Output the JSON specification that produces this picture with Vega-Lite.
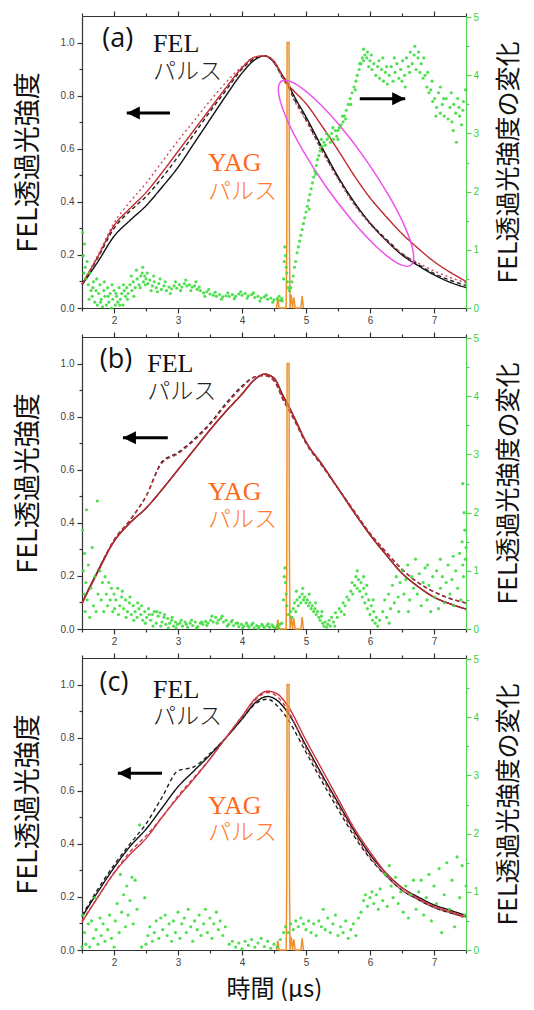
{
  "$schema": "https://vega.github.io/schema/vega-lite/v6.json",
  "padding": {"left": 14, "top": 10, "right": 0, "bottom": 0},
  "spacing": 29,
  "bounds": "flush",
  "config": {
    "view": {"stroke": null},
    "axis": {"grid": false, "labelFont": "Liberation Sans", "labelFontSize": 10, "labelColor": "#444", "domainColor": "#333", "tickColor": "#333", "domainWidth": 1.2, "tickWidth": 1.2, "titleFont": "Noto Sans CJK JP", "titleFontWeight": "normal", "titleFontSize": 27, "titleColor": "#111"}
  },
  "datasets": {
    "curves": [
      {"p":"a","x":1.5,"k":0.087,"kd":0.09,"r":0.09,"rd":0.09},
      {"p":"a","x":1.75,"k":0.175,"kd":0.19,"r":0.195,"rd":0.2},
      {"p":"a","x":2.0,"k":0.27,"kd":0.3,"r":0.31,"rd":0.32},
      {"p":"a","x":2.25,"k":0.33,"kd":0.365,"r":0.375,"rd":0.4},
      {"p":"a","x":2.5,"k":0.385,"kd":0.42,"r":0.435,"rd":0.47},
      {"p":"a","x":2.75,"k":0.455,"kd":0.49,"r":0.51,"rd":0.55},
      {"p":"a","x":3.0,"k":0.53,"kd":0.57,"r":0.59,"rd":0.63},
      {"p":"a","x":3.25,"k":0.62,"kd":0.655,"r":0.67,"rd":0.705},
      {"p":"a","x":3.5,"k":0.71,"kd":0.74,"r":0.75,"rd":0.78},
      {"p":"a","x":3.75,"k":0.8,"kd":0.82,"r":0.83,"rd":0.85},
      {"p":"a","x":4.0,"k":0.885,"kd":0.9,"r":0.905,"rd":0.91},
      {"p":"a","x":4.2,"k":0.935,"kd":0.94,"r":0.945,"rd":0.945},
      {"p":"a","x":4.35,"k":0.95,"kd":0.95,"r":0.95,"rd":0.95},
      {"p":"a","x":4.5,"k":0.925,"kd":0.925,"r":0.93,"rd":0.925},
      {"p":"a","x":4.65,"k":0.87,"kd":0.86,"r":0.865,"rd":0.86},
      {"p":"a","x":4.72,"k":0.845,"kd":0.835,"r":0.84,"rd":0.835},
      {"p":"a","x":4.8,"k":0.805,"kd":0.795,"r":0.82,"rd":0.79},
      {"p":"a","x":5.0,"k":0.72,"kd":0.71,"r":0.77,"rd":0.705},
      {"p":"a","x":5.25,"k":0.605,"kd":0.595,"r":0.685,"rd":0.59},
      {"p":"a","x":5.5,"k":0.495,"kd":0.49,"r":0.595,"rd":0.485},
      {"p":"a","x":5.75,"k":0.4,"kd":0.395,"r":0.5,"rd":0.39},
      {"p":"a","x":6.0,"k":0.32,"kd":0.32,"r":0.415,"rd":0.315},
      {"p":"a","x":6.25,"k":0.255,"kd":0.26,"r":0.345,"rd":0.255},
      {"p":"a","x":6.5,"k":0.2,"kd":0.205,"r":0.28,"rd":0.205},
      {"p":"a","x":6.75,"k":0.16,"kd":0.165,"r":0.225,"rd":0.17},
      {"p":"a","x":7.0,"k":0.125,"kd":0.13,"r":0.175,"rd":0.14},
      {"p":"a","x":7.25,"k":0.097,"kd":0.105,"r":0.135,"rd":0.115},
      {"p":"a","x":7.5,"k":0.077,"kd":0.085,"r":0.1,"rd":0.095},
      {"p":"b","x":1.5,"k":0.098,"kd":0.098,"r":0.095,"rd":0.098},
      {"p":"b","x":1.75,"k":0.22,"kd":0.22,"r":0.215,"rd":0.22},
      {"p":"b","x":2.0,"k":0.33,"kd":0.335,"r":0.33,"rd":0.335},
      {"p":"b","x":2.25,"k":0.4,"kd":0.41,"r":0.4,"rd":0.41},
      {"p":"b","x":2.5,"k":0.455,"kd":0.5,"r":0.455,"rd":0.5},
      {"p":"b","x":2.75,"k":0.525,"kd":0.63,"r":0.525,"rd":0.625},
      {"p":"b","x":3.0,"k":0.6,"kd":0.665,"r":0.6,"rd":0.66},
      {"p":"b","x":3.25,"k":0.675,"kd":0.715,"r":0.675,"rd":0.71},
      {"p":"b","x":3.5,"k":0.75,"kd":0.775,"r":0.75,"rd":0.77},
      {"p":"b","x":3.75,"k":0.82,"kd":0.85,"r":0.82,"rd":0.845},
      {"p":"b","x":4.0,"k":0.885,"kd":0.915,"r":0.885,"rd":0.91},
      {"p":"b","x":4.2,"k":0.94,"kd":0.95,"r":0.94,"rd":0.95},
      {"p":"b","x":4.35,"k":0.96,"kd":0.955,"r":0.96,"rd":0.955},
      {"p":"b","x":4.5,"k":0.945,"kd":0.935,"r":0.945,"rd":0.935},
      {"p":"b","x":4.65,"k":0.875,"kd":0.86,"r":0.87,"rd":0.86},
      {"p":"b","x":4.72,"k":0.845,"kd":0.83,"r":0.84,"rd":0.83},
      {"p":"b","x":4.8,"k":0.805,"kd":0.795,"r":0.805,"rd":0.795},
      {"p":"b","x":5.0,"k":0.705,"kd":0.7,"r":0.705,"rd":0.7},
      {"p":"b","x":5.25,"k":0.62,"kd":0.615,"r":0.62,"rd":0.615},
      {"p":"b","x":5.5,"k":0.53,"kd":0.53,"r":0.53,"rd":0.53},
      {"p":"b","x":5.75,"k":0.44,"kd":0.445,"r":0.44,"rd":0.445},
      {"p":"b","x":6.0,"k":0.355,"kd":0.36,"r":0.355,"rd":0.36},
      {"p":"b","x":6.25,"k":0.28,"kd":0.29,"r":0.28,"rd":0.29},
      {"p":"b","x":6.5,"k":0.21,"kd":0.225,"r":0.21,"rd":0.225},
      {"p":"b","x":6.75,"k":0.16,"kd":0.175,"r":0.16,"rd":0.175},
      {"p":"b","x":7.0,"k":0.12,"kd":0.14,"r":0.12,"rd":0.14},
      {"p":"b","x":7.25,"k":0.095,"kd":0.115,"r":0.095,"rd":0.115},
      {"p":"b","x":7.5,"k":0.075,"kd":0.098,"r":0.075,"rd":0.098},
      {"p":"c","x":1.5,"k":0.125,"kd":0.13,"r":0.105,"rd":0.11},
      {"p":"c","x":1.75,"k":0.22,"kd":0.23,"r":0.2,"rd":0.2},
      {"p":"c","x":2.0,"k":0.31,"kd":0.32,"r":0.29,"rd":0.29},
      {"p":"c","x":2.25,"k":0.39,"kd":0.4,"r":0.36,"rd":0.37},
      {"p":"c","x":2.5,"k":0.455,"kd":0.475,"r":0.42,"rd":0.43},
      {"p":"c","x":2.75,"k":0.535,"kd":0.575,"r":0.5,"rd":0.5},
      {"p":"c","x":3.0,"k":0.615,"kd":0.675,"r":0.575,"rd":0.58},
      {"p":"c","x":3.25,"k":0.675,"kd":0.69,"r":0.645,"rd":0.65},
      {"p":"c","x":3.5,"k":0.735,"kd":0.74,"r":0.72,"rd":0.72},
      {"p":"c","x":3.75,"k":0.8,"kd":0.8,"r":0.8,"rd":0.8},
      {"p":"c","x":4.0,"k":0.87,"kd":0.87,"r":0.88,"rd":0.88},
      {"p":"c","x":4.2,"k":0.93,"kd":0.925,"r":0.945,"rd":0.94},
      {"p":"c","x":4.4,"k":0.955,"kd":0.945,"r":0.975,"rd":0.97},
      {"p":"c","x":4.55,"k":0.94,"kd":0.92,"r":0.965,"rd":0.955},
      {"p":"c","x":4.7,"k":0.9,"kd":0.875,"r":0.925,"rd":0.91},
      {"p":"c","x":5.0,"k":0.77,"kd":0.745,"r":0.79,"rd":0.76},
      {"p":"c","x":5.25,"k":0.66,"kd":0.635,"r":0.68,"rd":0.65},
      {"p":"c","x":5.5,"k":0.555,"kd":0.53,"r":0.57,"rd":0.545},
      {"p":"c","x":5.75,"k":0.45,"kd":0.43,"r":0.46,"rd":0.44},
      {"p":"c","x":6.0,"k":0.36,"kd":0.345,"r":0.37,"rd":0.35},
      {"p":"c","x":6.25,"k":0.29,"kd":0.28,"r":0.29,"rd":0.28},
      {"p":"c","x":6.5,"k":0.235,"kd":0.225,"r":0.235,"rd":0.225},
      {"p":"c","x":6.75,"k":0.2,"kd":0.19,"r":0.195,"rd":0.19},
      {"p":"c","x":7.0,"k":0.17,"kd":0.16,"r":0.165,"rd":0.16},
      {"p":"c","x":7.25,"k":0.15,"kd":0.14,"r":0.145,"rd":0.14},
      {"p":"c","x":7.5,"k":0.13,"kd":0.125,"r":0.125,"rd":0.12}
    ],
    "yag": [
      {"x":4.54,"y":0},{"x":4.56,"y":0.035},{"x":4.58,"y":0},{"x":4.69,"y":0},{"x":4.7,"y":0.25},{"x":4.705,"y":1.0},{"x":4.735,"y":1.0},{"x":4.74,"y":0.3},{"x":4.75,"y":0},{"x":4.77,"y":0.05},{"x":4.79,"y":0},{"x":4.81,"y":0.04},{"x":4.83,"y":0},{"x":4.92,"y":0},{"x":4.94,"y":0.045},{"x":4.96,"y":0}
    ],
    "ellipse": [
      {"i":0,"x":6.636,"y":0.161},{"i":1,"x":6.442,"y":0.167},{"i":2,"x":6.122,"y":0.226},{"i":3,"x":5.73,"y":0.327},
      {"i":4,"x":5.319,"y":0.455},{"i":5,"x":4.955,"y":0.592},{"i":6,"x":4.694,"y":0.715},{"i":7,"x":4.573,"y":0.808},
      {"i":8,"x":4.614,"y":0.854},{"i":9,"x":4.808,"y":0.848},{"i":10,"x":5.128,"y":0.789},{"i":11,"x":5.52,"y":0.689},
      {"i":12,"x":5.931,"y":0.56},{"i":13,"x":6.295,"y":0.423},{"i":14,"x":6.556,"y":0.3},{"i":15,"x":6.677,"y":0.208}
    ],
    "notes": [
      {"p":"a","k":"lab","t":"(a)","x":2.06,"y":1.015},
      {"p":"a","k":"fel","t":"FEL","x":2.61,"y":0.966},
      {"p":"a","k":"felj","t":"パルス","x":2.61,"y":0.864},
      {"p":"a","k":"yag","t":"YAG","x":3.47,"y":0.517},
      {"p":"a","k":"yagj","t":"パルス","x":3.47,"y":0.41},
      {"p":"b","k":"lab","t":"(b)","x":2.03,"y":1.012},
      {"p":"b","k":"fel","t":"FEL","x":2.52,"y":0.967},
      {"p":"b","k":"felj","t":"パルス","x":2.52,"y":0.865},
      {"p":"b","k":"yag","t":"YAG","x":3.47,"y":0.486},
      {"p":"b","k":"yagj","t":"パルス","x":3.47,"y":0.383},
      {"p":"c","k":"lab","t":"(c)","x":2.0,"y":1.006},
      {"p":"c","k":"fel","t":"FEL","x":2.61,"y":0.95},
      {"p":"c","k":"felj","t":"パルス","x":2.61,"y":0.852},
      {"p":"c","k":"yag","t":"YAG","x":3.47,"y":0.513},
      {"p":"c","k":"yagj","t":"パルス","x":3.47,"y":0.415}
    ],
    "arrows": [
      {"p":"a","d":"L","x1":2.875,"x2":2.2,"y":0.735},
      {"p":"a","d":"R","x1":5.84,"x2":6.55,"y":0.788},
      {"p":"b","d":"L","x1":2.84,"x2":2.14,"y":0.72},
      {"p":"c","d":"L","x1":2.75,"x2":2.06,"y":0.666}
    ],
    "green": [
      {"p":"a","x":1.51,"g":1.3},{"p":"a","x":1.52,"g":0.9},{"p":"a","x":1.53,"g":0.6},{"p":"a","x":1.54,"g":1.1},{"p":"a","x":1.55,"g":0.7},{"p":"a","x":1.56,"g":0.5},{"p":"a","x":1.58,"g":0.8},{"p":"a","x":1.6,"g":0.4},{"p":"a","x":1.62,"g":0.6},{"p":"a","x":1.64,"g":0.3},
      {"p":"a","x":1.66,"g":0.2},{"p":"a","x":1.68,"g":0.45},{"p":"a","x":1.7,"g":0.1},{"p":"a","x":1.72,"g":0.3},{"p":"a","x":1.74,"g":0.05},{"p":"a","x":1.76,"g":0.25},{"p":"a","x":1.78,"g":0.4},{"p":"a","x":1.8,"g":0.15},{"p":"a","x":1.82,"g":0.02},{"p":"a","x":1.84,"g":0.3},{"p":"a","x":1.86,"g":0.2},{"p":"a","x":1.88,"g":0.05},{"p":"a","x":1.9,"g":0.35},{"p":"a","x":1.92,"g":0.1},{"p":"a","x":1.94,"g":0.25},{"p":"a","x":1.96,"g":0.0},{"p":"a","x":1.98,"g":0.15},{"p":"a","x":2.0,"g":0.3},{"p":"a","x":2.02,"g":0.05},{"p":"a","x":2.04,"g":0.2},{"p":"a","x":2.06,"g":0.1},{"p":"a","x":2.08,"g":0.35},{"p":"a","x":2.1,"g":0.15},{"p":"a","x":2.12,"g":0.25},{"p":"a","x":2.14,"g":0.05},{"p":"a","x":2.16,"g":0.3},{"p":"a","x":2.18,"g":0.2},{"p":"a","x":2.2,"g":0.35},
      {"p":"a","x":2.22,"g":0.25},{"p":"a","x":2.25,"g":0.4},{"p":"a","x":2.28,"g":0.3},{"p":"a","x":2.3,"g":0.45},{"p":"a","x":2.33,"g":0.35},{"p":"a","x":2.36,"g":0.5},{"p":"a","x":2.39,"g":0.4},{"p":"a","x":2.42,"g":0.55},{"p":"a","x":2.44,"g":0.6},{"p":"a","x":2.46,"g":0.45},{"p":"a","x":2.48,"g":0.55},
      {"p":"a","x":2.5,"g":0.5},{"p":"a","x":2.53,"g":0.42},{"p":"a","x":2.56,"g":0.48},{"p":"a","x":2.6,"g":0.38},{"p":"a","x":2.63,"g":0.45},{"p":"a","x":2.66,"g":0.35},{"p":"a","x":2.7,"g":0.42},{"p":"a","x":2.74,"g":0.32},{"p":"a","x":2.78,"g":0.38},{"p":"a","x":2.82,"g":0.3},{"p":"a","x":2.86,"g":0.36},{"p":"a","x":2.9,"g":0.33},{"p":"a","x":2.94,"g":0.38},{"p":"a","x":2.98,"g":0.34},{"p":"a","x":3.02,"g":0.4},{"p":"a","x":3.06,"g":0.36},{"p":"a","x":3.1,"g":0.42},{"p":"a","x":3.14,"g":0.38},{"p":"a","x":3.18,"g":0.4},{"p":"a","x":3.22,"g":0.36},{"p":"a","x":3.26,"g":0.38},{"p":"a","x":3.3,"g":0.32},
      {"p":"a","x":3.35,"g":0.3},{"p":"a","x":3.4,"g":0.26},{"p":"a","x":3.45,"g":0.28},{"p":"a","x":3.5,"g":0.24},{"p":"a","x":3.55,"g":0.22},{"p":"a","x":3.6,"g":0.2},{"p":"a","x":3.65,"g":0.23},{"p":"a","x":3.7,"g":0.19},{"p":"a","x":3.75,"g":0.21},{"p":"a","x":3.8,"g":0.2},{"p":"a","x":3.85,"g":0.23},{"p":"a","x":3.9,"g":0.2},{"p":"a","x":3.95,"g":0.24},{"p":"a","x":4.0,"g":0.22},{"p":"a","x":4.05,"g":0.25},{"p":"a","x":4.1,"g":0.21},{"p":"a","x":4.15,"g":0.23},{"p":"a","x":4.2,"g":0.18},{"p":"a","x":4.25,"g":0.2},{"p":"a","x":4.3,"g":0.17},{"p":"a","x":4.35,"g":0.19},{"p":"a","x":4.4,"g":0.15},{"p":"a","x":4.45,"g":0.17},{"p":"a","x":4.5,"g":0.14},{"p":"a","x":4.55,"g":0.16},{"p":"a","x":4.6,"g":0.13},{"p":"a","x":4.63,"g":0.12},
      {"p":"a","x":1.61,"g":0.15},{"p":"a","x":1.67,"g":0.35},{"p":"a","x":1.73,"g":0.5},{"p":"a","x":1.79,"g":0.1},{"p":"a","x":1.85,"g":0.45},{"p":"a","x":1.91,"g":0.2},{"p":"a","x":1.97,"g":0.4},{"p":"a","x":2.03,"g":0.25},{"p":"a","x":2.09,"g":0.05},{"p":"a","x":2.15,"g":0.4},{"p":"a","x":2.21,"g":0.15},{"p":"a","x":2.27,"g":0.55},{"p":"a","x":2.31,"g":0.2},{"p":"a","x":2.35,"g":0.65},{"p":"a","x":2.41,"g":0.35},{"p":"a","x":2.45,"g":0.7},{"p":"a","x":2.49,"g":0.4},{"p":"a","x":2.52,"g":0.6},{"p":"a","x":2.58,"g":0.3},{"p":"a","x":2.62,"g":0.55},{"p":"a","x":2.68,"g":0.28},{"p":"a","x":2.72,"g":0.5},{"p":"a","x":2.8,"g":0.45},{"p":"a","x":2.88,"g":0.25},{"p":"a","x":2.96,"g":0.45},{"p":"a","x":3.04,"g":0.3},{"p":"a","x":3.12,"g":0.48},{"p":"a","x":3.2,"g":0.3},{"p":"a","x":3.28,"g":0.45},{"p":"a","x":3.33,"g":0.36},{"p":"a","x":3.42,"g":0.2},{"p":"a","x":3.48,"g":0.32},{"p":"a","x":3.58,"g":0.27},{"p":"a","x":3.68,"g":0.15},{"p":"a","x":3.78,"g":0.26},{"p":"a","x":3.88,"g":0.16},{"p":"a","x":3.98,"g":0.28},{"p":"a","x":4.08,"g":0.17},{"p":"a","x":4.18,"g":0.26},{"p":"a","x":4.28,"g":0.12},{"p":"a","x":4.38,"g":0.22},{"p":"a","x":4.48,"g":0.1},{"p":"a","x":4.58,"g":0.2},{"p":"a","x":4.62,"g":0.16},
      {"p":"a","x":4.65,"g":0.5},{"p":"a","x":4.66,"g":0.8},{"p":"a","x":4.67,"g":1.05},{"p":"a","x":4.68,"g":0.9},{"p":"a","x":4.69,"g":0.7},{"p":"a","x":4.7,"g":0.6},{"p":"a","x":4.71,"g":0.45},{"p":"a","x":4.72,"g":0.35},{"p":"a","x":4.74,"g":0.3},
      {"p":"a","x":4.76,"g":0.35},{"p":"a","x":4.78,"g":0.45},{"p":"a","x":4.8,"g":0.55},{"p":"a","x":4.82,"g":0.7},{"p":"a","x":4.84,"g":0.8},{"p":"a","x":4.86,"g":0.95},{"p":"a","x":4.88,"g":1.05},{"p":"a","x":4.9,"g":1.15},{"p":"a","x":4.92,"g":1.25},{"p":"a","x":4.94,"g":1.35},{"p":"a","x":4.96,"g":1.45},{"p":"a","x":4.98,"g":1.55},{"p":"a","x":5.0,"g":1.65},{"p":"a","x":5.02,"g":1.75},{"p":"a","x":5.04,"g":1.85},{"p":"a","x":5.06,"g":1.95},{"p":"a","x":5.08,"g":2.05},{"p":"a","x":5.1,"g":2.15},{"p":"a","x":5.12,"g":2.25},{"p":"a","x":5.14,"g":2.35},{"p":"a","x":5.16,"g":2.45},{"p":"a","x":5.18,"g":2.55},{"p":"a","x":5.2,"g":2.62},{"p":"a","x":5.22,"g":2.7},{"p":"a","x":5.25,"g":2.78},{"p":"a","x":5.28,"g":2.85},{"p":"a","x":5.3,"g":2.8},{"p":"a","x":5.33,"g":2.9},{"p":"a","x":5.36,"g":2.95},{"p":"a","x":5.38,"g":2.85},{"p":"a","x":5.4,"g":3.0},{"p":"a","x":5.43,"g":2.9},{"p":"a","x":5.46,"g":3.05},{"p":"a","x":5.48,"g":2.95},{"p":"a","x":5.5,"g":3.05},{"p":"a","x":5.52,"g":3.1},{"p":"a","x":5.55,"g":3.15},{"p":"a","x":5.58,"g":3.2},{"p":"a","x":5.6,"g":3.3},{"p":"a","x":5.63,"g":3.4},{"p":"a","x":5.66,"g":3.5},{"p":"a","x":5.69,"g":3.6},{"p":"a","x":5.72,"g":3.7},{"p":"a","x":5.75,"g":3.8},{"p":"a","x":5.78,"g":3.9},{"p":"a","x":5.8,"g":4.0},{"p":"a","x":5.83,"g":4.1},{"p":"a","x":5.86,"g":4.2},{"p":"a","x":5.88,"g":4.3},{"p":"a","x":5.9,"g":4.25},{"p":"a","x":5.92,"g":4.35},{"p":"a","x":5.95,"g":4.3},{"p":"a","x":5.98,"g":4.15},
      {"p":"a","x":5.05,"g":1.7},{"p":"a","x":5.15,"g":2.3},{"p":"a","x":5.24,"g":2.9},{"p":"a","x":5.32,"g":3.0},{"p":"a","x":5.42,"g":3.1},{"p":"a","x":5.5,"g":2.9},{"p":"a","x":5.57,"g":3.3},{"p":"a","x":5.62,"g":3.25},{"p":"a","x":5.7,"g":3.5},{"p":"a","x":5.77,"g":3.75},{"p":"a","x":5.84,"g":4.2},{"p":"a","x":5.9,"g":4.45},{"p":"a","x":5.96,"g":4.4},{"p":"a","x":6.02,"g":4.35},{"p":"a","x":6.14,"g":4.25},{"p":"a","x":6.26,"g":4.15},{"p":"a","x":6.38,"g":4.3},{"p":"a","x":6.5,"g":3.9},{"p":"a","x":6.62,"g":4.05},{"p":"a","x":6.7,"g":4.5},{"p":"a","x":6.76,"g":4.4},{"p":"a","x":6.84,"g":4.3},{"p":"a","x":6.9,"g":4.05},{"p":"a","x":6.97,"g":3.9},{"p":"a","x":7.03,"g":3.3},{"p":"a","x":7.15,"g":3.6},{"p":"a","x":7.27,"g":3.7},{"p":"a","x":7.39,"g":3.45},{"p":"a","x":7.45,"g":3.4},
      {"p":"a","x":6.0,"g":4.25},{"p":"a","x":6.03,"g":4.1},{"p":"a","x":6.06,"g":4.2},{"p":"a","x":6.09,"g":4.0},{"p":"a","x":6.12,"g":4.15},{"p":"a","x":6.15,"g":3.95},{"p":"a","x":6.18,"g":4.1},{"p":"a","x":6.21,"g":3.9},{"p":"a","x":6.24,"g":4.05},{"p":"a","x":6.27,"g":3.85},{"p":"a","x":6.3,"g":4.0},{"p":"a","x":6.33,"g":4.15},{"p":"a","x":6.36,"g":3.9},{"p":"a","x":6.39,"g":4.05},{"p":"a","x":6.42,"g":4.2},{"p":"a","x":6.45,"g":3.95},{"p":"a","x":6.48,"g":4.1},{"p":"a","x":6.51,"g":4.25},{"p":"a","x":6.54,"g":4.0},{"p":"a","x":6.57,"g":4.3},{"p":"a","x":6.6,"g":4.15},{"p":"a","x":6.63,"g":4.4},{"p":"a","x":6.66,"g":4.2},{"p":"a","x":6.69,"g":4.35},{"p":"a","x":6.72,"g":4.1},{"p":"a","x":6.75,"g":4.3},{"p":"a","x":6.78,"g":4.05},{"p":"a","x":6.8,"g":4.2},{"p":"a","x":6.83,"g":3.95},{"p":"a","x":6.86,"g":4.0},{"p":"a","x":6.89,"g":3.8},{"p":"a","x":6.92,"g":3.7},{"p":"a","x":6.95,"g":3.75},{"p":"a","x":6.98,"g":3.55},
      {"p":"a","x":7.01,"g":3.6},{"p":"a","x":7.04,"g":3.45},{"p":"a","x":7.07,"g":3.7},{"p":"a","x":7.1,"g":3.35},{"p":"a","x":7.13,"g":3.5},{"p":"a","x":7.16,"g":3.3},{"p":"a","x":7.19,"g":3.6},{"p":"a","x":7.22,"g":3.25},{"p":"a","x":7.25,"g":3.45},{"p":"a","x":7.28,"g":3.2},{"p":"a","x":7.31,"g":3.5},{"p":"a","x":7.34,"g":3.35},{"p":"a","x":7.37,"g":3.6},{"p":"a","x":7.4,"g":3.3},{"p":"a","x":7.43,"g":3.15},{"p":"a","x":7.46,"g":3.55},{"p":"a","x":7.49,"g":3.75},{"p":"a","x":7.1,"g":3.8},{"p":"a","x":7.3,"g":3.05},{"p":"a","x":7.35,"g":2.85},{"p":"a","x":6.55,"g":3.8},{"p":"a","x":6.2,"g":4.3},
      {"p":"b","x":1.51,"g":1.7},{"p":"b","x":1.52,"g":1.0},{"p":"b","x":1.53,"g":0.6},{"p":"b","x":1.54,"g":1.3},{"p":"b","x":1.55,"g":0.3},{"p":"b","x":1.56,"g":0.8},{"p":"b","x":1.57,"g":2.05},{"p":"b","x":1.58,"g":0.5},{"p":"b","x":1.6,"g":1.1},{"p":"b","x":1.62,"g":0.2},{"p":"b","x":1.64,"g":0.7},{"p":"b","x":1.66,"g":1.4},{"p":"b","x":1.68,"g":0.4},{"p":"b","x":1.7,"g":0.9},{"p":"b","x":1.72,"g":0.3},{"p":"b","x":1.74,"g":2.2},{"p":"b","x":1.75,"g":0.6},
      {"p":"b","x":1.78,"g":1.0},{"p":"b","x":1.8,"g":0.5},{"p":"b","x":1.82,"g":0.8},{"p":"b","x":1.84,"g":0.3},{"p":"b","x":1.86,"g":0.9},{"p":"b","x":1.88,"g":0.6},{"p":"b","x":1.9,"g":0.4},{"p":"b","x":1.92,"g":0.8},{"p":"b","x":1.94,"g":0.5},{"p":"b","x":1.96,"g":0.7},{"p":"b","x":1.98,"g":0.3},{"p":"b","x":2.0,"g":0.6},
      {"p":"b","x":2.03,"g":0.5},{"p":"b","x":2.06,"g":0.7},{"p":"b","x":2.09,"g":0.4},{"p":"b","x":2.12,"g":0.55},{"p":"b","x":2.15,"g":0.35},{"p":"b","x":2.18,"g":0.5},{"p":"b","x":2.21,"g":0.3},{"p":"b","x":2.24,"g":0.45},{"p":"b","x":2.27,"g":0.25},{"p":"b","x":2.3,"g":0.4},{"p":"b","x":2.33,"g":0.3},{"p":"b","x":2.36,"g":0.2},{"p":"b","x":2.39,"g":0.35},{"p":"b","x":2.42,"g":0.25},{"p":"b","x":2.45,"g":0.15},{"p":"b","x":2.48,"g":0.3},{"p":"b","x":2.51,"g":0.2},{"p":"b","x":2.54,"g":0.35},{"p":"b","x":2.57,"g":0.15},{"p":"b","x":2.6,"g":0.25},{"p":"b","x":2.63,"g":0.3},{"p":"b","x":2.66,"g":0.1},{"p":"b","x":2.69,"g":0.22},{"p":"b","x":2.72,"g":0.28},{"p":"b","x":2.75,"g":0.12},{"p":"b","x":2.78,"g":0.2},{"p":"b","x":2.81,"g":0.08},{"p":"b","x":2.84,"g":0.18},{"p":"b","x":2.87,"g":0.1},{"p":"b","x":2.9,"g":0.15},{"p":"b","x":2.93,"g":0.05},{"p":"b","x":2.96,"g":0.12},{"p":"b","x":2.99,"g":0.08},
      {"p":"b","x":2.01,"g":0.35},{"p":"b","x":2.07,"g":0.25},{"p":"b","x":2.13,"g":0.65},{"p":"b","x":2.19,"g":0.2},{"p":"b","x":2.25,"g":0.55},{"p":"b","x":2.31,"g":0.15},{"p":"b","x":2.37,"g":0.45},{"p":"b","x":2.43,"g":0.4},{"p":"b","x":2.49,"g":0.1},{"p":"b","x":2.55,"g":0.25},{"p":"b","x":2.61,"g":0.05},{"p":"b","x":2.67,"g":0.3},{"p":"b","x":2.73,"g":0.05},{"p":"b","x":2.79,"g":0.25},{"p":"b","x":2.85,"g":0.02},{"p":"b","x":2.91,"g":0.2},{"p":"b","x":2.97,"g":0.02},{"p":"b","x":3.05,"g":0.15},{"p":"b","x":3.13,"g":0.08},{"p":"b","x":3.21,"g":0.15},{"p":"b","x":3.29,"g":0.02},{"p":"b","x":3.37,"g":0.12},{"p":"b","x":3.45,"g":0.06},{"p":"b","x":3.53,"g":0.22},{"p":"b","x":3.61,"g":0.1},{"p":"b","x":3.69,"g":0.22},{"p":"b","x":3.77,"g":0.05},{"p":"b","x":3.85,"g":0.15},{"p":"b","x":3.93,"g":0.1},{"p":"b","x":4.01,"g":0.02},{"p":"b","x":4.09,"g":0.06},{"p":"b","x":4.17,"g":0.1},{"p":"b","x":4.25,"g":0.01},{"p":"b","x":4.33,"g":0.05},{"p":"b","x":4.41,"g":0.09},{"p":"b","x":4.49,"g":0.04},{"p":"b","x":4.57,"g":0.01},
      {"p":"b","x":3.03,"g":0.1},{"p":"b","x":3.07,"g":0.05},{"p":"b","x":3.11,"g":0.12},{"p":"b","x":3.15,"g":0.03},{"p":"b","x":3.19,"g":0.1},{"p":"b","x":3.23,"g":0.06},{"p":"b","x":3.27,"g":0.12},{"p":"b","x":3.31,"g":0.04},{"p":"b","x":3.35,"g":0.1},{"p":"b","x":3.39,"g":0.08},{"p":"b","x":3.43,"g":0.13},{"p":"b","x":3.47,"g":0.1},{"p":"b","x":3.51,"g":0.15},{"p":"b","x":3.55,"g":0.12},{"p":"b","x":3.59,"g":0.2},{"p":"b","x":3.63,"g":0.15},{"p":"b","x":3.67,"g":0.18},{"p":"b","x":3.71,"g":0.12},{"p":"b","x":3.75,"g":0.15},{"p":"b","x":3.79,"g":0.08},{"p":"b","x":3.83,"g":0.12},{"p":"b","x":3.87,"g":0.06},{"p":"b","x":3.91,"g":0.1},{"p":"b","x":3.95,"g":0.04},{"p":"b","x":3.99,"g":0.08},{"p":"b","x":4.03,"g":0.05},{"p":"b","x":4.07,"g":0.1},{"p":"b","x":4.11,"g":0.03},{"p":"b","x":4.15,"g":0.07},{"p":"b","x":4.19,"g":0.02},{"p":"b","x":4.23,"g":0.06},{"p":"b","x":4.27,"g":0.04},{"p":"b","x":4.31,"g":0.08},{"p":"b","x":4.35,"g":0.02},{"p":"b","x":4.39,"g":0.06},{"p":"b","x":4.43,"g":0.03},{"p":"b","x":4.47,"g":0.07},{"p":"b","x":4.51,"g":0.02},{"p":"b","x":4.55,"g":0.05},{"p":"b","x":4.59,"g":0.08},{"p":"b","x":4.62,"g":0.1},
      {"p":"b","x":4.65,"g":0.5},{"p":"b","x":4.66,"g":0.9},{"p":"b","x":4.67,"g":1.05},{"p":"b","x":4.68,"g":0.8},{"p":"b","x":4.69,"g":0.6},{"p":"b","x":4.7,"g":0.4},{"p":"b","x":4.72,"g":0.25},
      {"p":"b","x":4.76,"g":0.3},{"p":"b","x":4.78,"g":0.2},{"p":"b","x":4.8,"g":0.35},{"p":"b","x":4.82,"g":0.45},{"p":"b","x":4.84,"g":0.3},{"p":"b","x":4.86,"g":0.5},{"p":"b","x":4.88,"g":0.4},{"p":"b","x":4.9,"g":0.55},{"p":"b","x":4.92,"g":0.45},{"p":"b","x":4.94,"g":0.6},{"p":"b","x":4.96,"g":0.5},{"p":"b","x":4.98,"g":0.55},{"p":"b","x":5.0,"g":0.45},{"p":"b","x":5.02,"g":0.5},{"p":"b","x":5.04,"g":0.4},{"p":"b","x":5.06,"g":0.45},{"p":"b","x":5.08,"g":0.35},{"p":"b","x":5.1,"g":0.4},{"p":"b","x":5.12,"g":0.3},{"p":"b","x":5.14,"g":0.35},{"p":"b","x":5.16,"g":0.25},{"p":"b","x":5.18,"g":0.3},{"p":"b","x":5.2,"g":0.2},{"p":"b","x":5.22,"g":0.15},{"p":"b","x":5.24,"g":0.22},{"p":"b","x":5.26,"g":0.1},{"p":"b","x":5.28,"g":0.05},{"p":"b","x":5.3,"g":0.12},{"p":"b","x":5.32,"g":0.03},{"p":"b","x":5.34,"g":0.08},{"p":"b","x":5.36,"g":0.15},{"p":"b","x":5.38,"g":0.05},
      {"p":"b","x":4.85,"g":0.65},{"p":"b","x":4.95,"g":0.7},{"p":"b","x":5.05,"g":0.6},{"p":"b","x":5.15,"g":0.45},{"p":"b","x":5.25,"g":0.3},{"p":"b","x":5.45,"g":0.05},{"p":"b","x":5.6,"g":0.25},{"p":"b","x":5.72,"g":0.8},{"p":"b","x":5.8,"g":1.0},{"p":"b","x":5.9,"g":0.9},{"p":"b","x":5.95,"g":0.75},{"p":"b","x":6.05,"g":0.5},{"p":"b","x":6.3,"g":0.1},{"p":"b","x":6.45,"g":0.3},{"p":"b","x":6.6,"g":0.3},{"p":"b","x":6.9,"g":1.1},{"p":"b","x":7.1,"g":1.2},{"p":"b","x":7.3,"g":1.25},{"p":"b","x":7.45,"g":1.1},{"p":"b","x":7.47,"g":2.0},
      {"p":"b","x":5.4,"g":0.2},{"p":"b","x":5.43,"g":0.12},{"p":"b","x":5.46,"g":0.28},{"p":"b","x":5.49,"g":0.2},{"p":"b","x":5.52,"g":0.35},{"p":"b","x":5.55,"g":0.3},{"p":"b","x":5.58,"g":0.45},{"p":"b","x":5.61,"g":0.4},{"p":"b","x":5.64,"g":0.55},{"p":"b","x":5.67,"g":0.5},{"p":"b","x":5.7,"g":0.65},{"p":"b","x":5.73,"g":0.6},{"p":"b","x":5.76,"g":0.75},{"p":"b","x":5.78,"g":0.9},{"p":"b","x":5.8,"g":0.7},{"p":"b","x":5.82,"g":0.85},{"p":"b","x":5.84,"g":0.65},{"p":"b","x":5.86,"g":0.8},{"p":"b","x":5.88,"g":0.55},{"p":"b","x":5.9,"g":0.7},{"p":"b","x":5.92,"g":0.45},{"p":"b","x":5.94,"g":0.6},{"p":"b","x":5.96,"g":0.35},{"p":"b","x":5.98,"g":0.5},{"p":"b","x":6.0,"g":0.25},{"p":"b","x":6.02,"g":0.4},{"p":"b","x":6.04,"g":0.15},{"p":"b","x":6.06,"g":0.3},{"p":"b","x":6.08,"g":0.1},{"p":"b","x":6.1,"g":0.2},{"p":"b","x":6.12,"g":0.05},{"p":"b","x":6.15,"g":0.15},
      {"p":"b","x":6.2,"g":0.3},{"p":"b","x":6.23,"g":0.5},{"p":"b","x":6.26,"g":0.2},{"p":"b","x":6.29,"g":0.6},{"p":"b","x":6.32,"g":0.35},{"p":"b","x":6.35,"g":0.75},{"p":"b","x":6.38,"g":0.45},{"p":"b","x":6.41,"g":0.9},{"p":"b","x":6.44,"g":0.55},{"p":"b","x":6.47,"g":0.8},{"p":"b","x":6.5,"g":1.0},{"p":"b","x":6.53,"g":0.6},{"p":"b","x":6.56,"g":0.85},{"p":"b","x":6.59,"g":1.1},{"p":"b","x":6.62,"g":0.5},{"p":"b","x":6.65,"g":0.9},{"p":"b","x":6.68,"g":0.7},{"p":"b","x":6.71,"g":1.2},{"p":"b","x":6.74,"g":0.6},{"p":"b","x":6.77,"g":0.95},{"p":"b","x":6.8,"g":0.4},{"p":"b","x":6.83,"g":0.8},{"p":"b","x":6.86,"g":1.05},{"p":"b","x":6.89,"g":0.5},{"p":"b","x":6.92,"g":0.75},{"p":"b","x":6.95,"g":0.3},{"p":"b","x":6.98,"g":0.9},{"p":"b","x":7.01,"g":0.55},{"p":"b","x":7.04,"g":1.0},{"p":"b","x":7.07,"g":0.35},{"p":"b","x":7.1,"g":0.7},{"p":"b","x":7.13,"g":0.9},{"p":"b","x":7.16,"g":0.45},{"p":"b","x":7.19,"g":0.8},{"p":"b","x":7.22,"g":1.1},{"p":"b","x":7.25,"g":0.6},{"p":"b","x":7.28,"g":0.85},{"p":"b","x":7.31,"g":0.4},{"p":"b","x":7.34,"g":1.0},{"p":"b","x":7.37,"g":0.7},{"p":"b","x":7.4,"g":1.3},{"p":"b","x":7.42,"g":0.5},{"p":"b","x":7.44,"g":1.5},{"p":"b","x":7.46,"g":0.9},{"p":"b","x":7.48,"g":1.7},{"p":"b","x":7.49,"g":1.2},{"p":"b","x":7.45,"g":2.5},{"p":"b","x":7.5,"g":1.4},
      {"p":"c","x":1.5,"g":0.05},{"p":"c","x":1.52,"g":0.6},{"p":"c","x":1.54,"g":0.3},{"p":"c","x":1.56,"g":0.1},{"p":"c","x":1.6,"g":0.45},{"p":"c","x":1.62,"g":0.05},{"p":"c","x":1.65,"g":0.5},{"p":"c","x":1.68,"g":0.2},{"p":"c","x":1.7,"g":0.9},{"p":"c","x":1.72,"g":0.35},{"p":"c","x":1.75,"g":0.1},{"p":"c","x":1.78,"g":0.55},{"p":"c","x":1.8,"g":0.25},{"p":"c","x":1.83,"g":0.45},{"p":"c","x":1.86,"g":0.15},{"p":"c","x":1.9,"g":0.35},{"p":"c","x":1.93,"g":0.6},{"p":"c","x":1.96,"g":0.2},{"p":"c","x":2.0,"g":0.05},{"p":"c","x":2.02,"g":0.5},{"p":"c","x":2.05,"g":0.8},{"p":"c","x":2.08,"g":0.3},{"p":"c","x":2.1,"g":1.3},{"p":"c","x":2.12,"g":0.65},{"p":"c","x":2.15,"g":0.95},{"p":"c","x":2.18,"g":0.4},{"p":"c","x":2.2,"g":1.1},{"p":"c","x":2.22,"g":0.6},{"p":"c","x":2.25,"g":0.85},{"p":"c","x":2.28,"g":1.25},{"p":"c","x":2.3,"g":0.45},{"p":"c","x":2.33,"g":1.2},{"p":"c","x":2.36,"g":0.7},{"p":"c","x":2.4,"g":2.15},{"p":"c","x":2.43,"g":0.05},{"p":"c","x":2.48,"g":0.9},
      {"p":"c","x":2.5,"g":0.1},{"p":"c","x":2.53,"g":0.25},{"p":"c","x":2.56,"g":0.4},{"p":"c","x":2.6,"g":0.15},{"p":"c","x":2.63,"g":0.3},{"p":"c","x":2.66,"g":0.5},{"p":"c","x":2.7,"g":0.2},{"p":"c","x":2.73,"g":0.55},{"p":"c","x":2.76,"g":0.35},{"p":"c","x":2.8,"g":0.6},{"p":"c","x":2.83,"g":0.25},{"p":"c","x":2.86,"g":0.45},{"p":"c","x":2.9,"g":0.15},{"p":"c","x":2.93,"g":0.5},{"p":"c","x":2.96,"g":0.3},{"p":"c","x":3.0,"g":0.65},{"p":"c","x":3.03,"g":0.2},{"p":"c","x":3.06,"g":0.45},{"p":"c","x":3.1,"g":0.55},{"p":"c","x":3.13,"g":0.3},{"p":"c","x":3.16,"g":0.7},{"p":"c","x":3.2,"g":0.4},{"p":"c","x":3.23,"g":0.15},{"p":"c","x":3.26,"g":0.5},{"p":"c","x":3.3,"g":0.35},{"p":"c","x":3.33,"g":0.6},{"p":"c","x":3.36,"g":0.25},{"p":"c","x":3.4,"g":0.45},{"p":"c","x":3.43,"g":0.7},{"p":"c","x":3.46,"g":0.3},{"p":"c","x":3.5,"g":0.55},{"p":"c","x":3.53,"g":0.2},{"p":"c","x":3.56,"g":0.45},{"p":"c","x":3.6,"g":0.65},{"p":"c","x":3.63,"g":0.35},{"p":"c","x":3.66,"g":0.5},{"p":"c","x":3.7,"g":0.25},{"p":"c","x":3.74,"g":0.4},
      {"p":"c","x":3.8,"g":0.1},{"p":"c","x":3.85,"g":0.15},{"p":"c","x":3.9,"g":0.05},{"p":"c","x":3.95,"g":0.12},{"p":"c","x":4.0,"g":0.02},{"p":"c","x":4.05,"g":0.15},{"p":"c","x":4.1,"g":0.08},{"p":"c","x":4.15,"g":0.18},{"p":"c","x":4.2,"g":0.05},{"p":"c","x":4.25,"g":0.12},{"p":"c","x":4.3,"g":0.2},{"p":"c","x":4.35,"g":0.06},{"p":"c","x":4.4,"g":0.15},{"p":"c","x":4.45,"g":0.03},{"p":"c","x":4.5,"g":0.1},{"p":"c","x":4.55,"g":0.05},{"p":"c","x":4.6,"g":0.18},
      {"p":"c","x":4.65,"g":0.3},{"p":"c","x":4.68,"g":0.4},{"p":"c","x":4.72,"g":0.3},{"p":"c","x":4.76,"g":0.45},{"p":"c","x":4.8,"g":0.35},{"p":"c","x":4.84,"g":0.5},{"p":"c","x":4.88,"g":0.4},{"p":"c","x":4.92,"g":0.55},{"p":"c","x":4.96,"g":0.45},{"p":"c","x":5.0,"g":0.35},{"p":"c","x":5.04,"g":0.5},{"p":"c","x":5.08,"g":0.3},{"p":"c","x":5.12,"g":0.45},{"p":"c","x":5.16,"g":0.25},{"p":"c","x":5.2,"g":0.5},{"p":"c","x":5.24,"g":0.4},{"p":"c","x":5.27,"g":0.7},{"p":"c","x":5.3,"g":0.35},{"p":"c","x":5.34,"g":0.55},{"p":"c","x":5.38,"g":0.3},{"p":"c","x":5.42,"g":0.45},{"p":"c","x":5.46,"g":0.6},{"p":"c","x":5.5,"g":0.25},{"p":"c","x":5.54,"g":0.4},{"p":"c","x":5.58,"g":0.3},{"p":"c","x":5.62,"g":0.5},{"p":"c","x":5.66,"g":0.2},{"p":"c","x":5.7,"g":0.35},{"p":"c","x":5.74,"g":0.45},{"p":"c","x":5.78,"g":0.25},{"p":"c","x":5.82,"g":0.55},{"p":"c","x":5.86,"g":0.65},
      {"p":"c","x":5.9,"g":0.85},{"p":"c","x":5.93,"g":0.95},{"p":"c","x":5.96,"g":0.75},{"p":"c","x":6.0,"g":0.9},{"p":"c","x":6.03,"g":1.0},{"p":"c","x":6.06,"g":0.8},{"p":"c","x":6.1,"g":0.95},{"p":"c","x":6.13,"g":0.7},{"p":"c","x":6.16,"g":1.05},{"p":"c","x":6.2,"g":0.85},{"p":"c","x":6.24,"g":1.3},{"p":"c","x":6.27,"g":0.75},{"p":"c","x":6.3,"g":1.45},{"p":"c","x":6.33,"g":1.1},{"p":"c","x":6.36,"g":0.9},{"p":"c","x":6.4,"g":1.25},{"p":"c","x":6.44,"g":0.8},{"p":"c","x":6.48,"g":1.0},{"p":"c","x":6.52,"g":0.65},{"p":"c","x":6.56,"g":1.1},{"p":"c","x":6.6,"g":0.55},{"p":"c","x":6.64,"g":0.95},{"p":"c","x":6.68,"g":1.2},{"p":"c","x":6.72,"g":0.7},{"p":"c","x":6.76,"g":1.0},{"p":"c","x":6.8,"g":1.2},{"p":"c","x":6.84,"g":0.6},{"p":"c","x":6.88,"g":0.9},{"p":"c","x":6.92,"g":1.3},{"p":"c","x":6.96,"g":0.5},{"p":"c","x":7.0,"g":1.1},{"p":"c","x":7.04,"g":0.8},{"p":"c","x":7.08,"g":1.4},{"p":"c","x":7.12,"g":0.3},{"p":"c","x":7.16,"g":0.95},{"p":"c","x":7.2,"g":1.5},{"p":"c","x":7.24,"g":0.7},{"p":"c","x":7.28,"g":1.2},{"p":"c","x":7.32,"g":0.4},{"p":"c","x":7.36,"g":1.6},{"p":"c","x":7.4,"g":0.9},{"p":"c","x":7.44,"g":1.45},{"p":"c","x":7.48,"g":0.6},{"p":"c","x":7.5,"g":1.1}
    ]
  },
  "vconcat": [
    {
      "width": 384, "height": 292,
      "resolve": {"scale": {"y": "independent", "color": "independent", "strokeDash": "independent", "shape": "independent"}, "axis": {"x": "independent"}},
      "layer": [
        {
          "data": {"name": "curves"},
          "transform": [{"filter": "datum.p === 'a'"}, {"fold": ["k", "kd", "r", "rd"], "as": ["s", "y"]}],
          "mark": {"type": "line", "strokeWidth": 1.4, "interpolate": "monotone"},
          "encoding": {
            "x": {"field": "x", "type": "quantitative", "scale": {"domain": [1.5, 7.5], "nice": false, "zero": false},
              "axis": {"orient": "bottom", "title": null, "values": [1.5,2,2.5,3,3.5,4,4.5,5,5.5,6,6.5,7,7.5], "labelExpr": "round(datum.value*2)%2 ? '' : format(datum.value,'d')", "tickSize": {"condition": {"test": "round(datum.value*2)%2", "value": 3}, "value": 5}, "labelPadding": 2}},
            "y": {"field": "y", "type": "quantitative", "scale": {"domain": [0, 1.1], "nice": false},
              "axis": {"orient": "left", "title": "FEL透過光強度", "values": [0,0.1,0.2,0.3,0.4,0.5,0.6,0.7,0.8,0.9,1.0], "labelExpr": "round(datum.value*10)%2 ? '' : format(datum.value,'.1f')", "tickSize": {"condition": {"test": "round(datum.value*10)%2", "value": 3}, "value": 5}, "labelPadding": 3, "titlePadding": 18}},
            "color": {"field": "s", "type": "nominal", "scale": {"domain": ["k", "kd", "r", "rd"], "range": ["#111111", "#222222", "#c0282d", "#cc4a5e"]}, "legend": null},
            "strokeDash": {"field": "s", "type": "nominal", "scale": {"domain": ["k", "kd", "r", "rd"], "range": [[1, 0], [4, 3], [1, 0], [2, 3]]}, "legend": null}
          }
        },
        {
          "data": {"name": "yag"},
          "mark": {"type": "line", "color": "#f0902a", "strokeWidth": 1.5},
          "encoding": {"x": {"field": "x", "type": "quantitative", "axis": null}, "y": {"field": "y", "type": "quantitative", "scale": {"domain": [0, 1.1], "nice": false}, "axis": null}}
        },
        {
          "data": {"name": "ellipse"},
          "mark": {"type": "line", "color": "#f050f0", "strokeWidth": 1.5, "interpolate": "cardinal-closed"},
          "encoding": {"x": {"field": "x", "type": "quantitative", "axis": null}, "y": {"field": "y", "type": "quantitative", "scale": {"domain": [0, 1.1], "nice": false}, "axis": null}, "order": {"field": "i", "type": "quantitative"}}
        },
        {
          "data": {"name": "arrows"},
          "transform": [{"filter": "datum.p === 'a'"}],
          "mark": {"type": "rule", "color": "#000", "strokeWidth": 3},
          "encoding": {"x": {"field": "x1", "type": "quantitative", "axis": null}, "x2": {"field": "x2"}, "y": {"field": "y", "type": "quantitative", "scale": {"domain": [0, 1.1], "nice": false}, "axis": null}}
        },
        {
          "data": {"name": "arrows"},
          "transform": [{"filter": "datum.p === 'a'"}],
          "mark": {"type": "point", "filled": true, "opacity": 1, "color": "#000", "size": 676},
          "encoding": {"x": {"field": "x2", "type": "quantitative", "axis": null}, "y": {"field": "y", "type": "quantitative", "scale": {"domain": [0, 1.1], "nice": false}, "axis": null},
            "shape": {"field": "d", "type": "nominal", "scale": {"domain": ["L", "R"], "range": ["M0,0L1,-0.5L1,0.5Z", "M0,0L-1,-0.5L-1,0.5Z"]}, "legend": null}}
        },
        {
          "data": {"name": "notes"},
          "transform": [{"filter": "datum.p === 'a' && datum.k === 'lab'"}],
          "mark": {"type": "text", "font": "Open Sans", "fontSize": 27, "align": "center", "baseline": "middle", "color": "#111"},
          "encoding": {"x": {"field": "x", "type": "quantitative", "axis": null}, "y": {"field": "y", "type": "quantitative", "scale": {"domain": [0, 1.1], "nice": false}, "axis": null}, "text": {"field": "t"}}
        },
        {
          "data": {"name": "notes"},
          "transform": [{"filter": "datum.p === 'a' && (datum.k === 'fel' || datum.k === 'yag')"}],
          "mark": {"type": "text", "font": "Liberation Serif", "fontSize": 26, "align": "left", "baseline": "alphabetic"},
          "encoding": {"x": {"field": "x", "type": "quantitative", "axis": null}, "y": {"field": "y", "type": "quantitative", "scale": {"domain": [0, 1.1], "nice": false}, "axis": null}, "text": {"field": "t"},
            "color": {"field": "k", "type": "nominal", "scale": {"domain": ["fel", "yag"], "range": ["#111111", "#ff6a1a"]}, "legend": null}}
        },
        {
          "data": {"name": "notes"},
          "transform": [{"filter": "datum.p === 'a' && (datum.k === 'felj' || datum.k === 'yagj')"}],
          "mark": {"type": "text", "font": "Noto Sans CJK JP", "fontSize": 23, "fontWeight": 300, "align": "left", "baseline": "alphabetic"},
          "encoding": {"x": {"field": "x", "type": "quantitative", "axis": null}, "y": {"field": "y", "type": "quantitative", "scale": {"domain": [0, 1.1], "nice": false}, "axis": null}, "text": {"field": "t"},
            "color": {"field": "k", "type": "nominal", "scale": {"domain": ["felj", "yagj"], "range": ["#222222", "#ff7a2a"]}, "legend": null}}
        },
        {
          "data": {"name": "green"},
          "transform": [{"filter": "datum.p === 'a'"}],
          "mark": {"type": "circle", "size": 10, "opacity": 0.9, "color": "#3ddc3d"},
          "encoding": {
            "x": {"field": "x", "type": "quantitative", "scale": {"domain": [1.5, 7.5], "nice": false, "zero": false},
              "axis": {"orient": "top", "labels": false, "title": null, "values": [1.5,2,2.5,3,3.5,4,4.5,5,5.5,6,6.5,7,7.5], "tickSize": {"condition": {"test": "round(datum.value*2)%2", "value": 3}, "value": 5}}},
            "y": {"field": "g", "type": "quantitative", "scale": {"domain": [0, 5.02], "nice": false},
              "axis": {"orient": "right", "title": "FEL透過光強度の変化", "titleFontSize": 25, "titleAngle": 270, "titleBaseline": "top", "values": [0,0.5,1,1.5,2,2.5,3,3.5,4,4.5,5], "labelExpr": "round(datum.value*2)%2 ? '' : format(datum.value,'d')", "tickSize": {"condition": {"test": "round(datum.value*2)%2", "value": 3}, "value": 5}, "domainColor": "#55d455", "tickColor": "#55d455", "labelColor": "#3ccc3c", "titlePadding": 18}}
          }
        }
      ]
    },
    {
      "width": 384, "height": 292,
      "resolve": {"scale": {"y": "independent", "color": "independent", "strokeDash": "independent", "shape": "independent"}, "axis": {"x": "independent"}},
      "layer": [
        {
          "data": {"name": "curves"},
          "transform": [{"filter": "datum.p === 'b'"}, {"fold": ["k", "kd", "r", "rd"], "as": ["s", "y"]}],
          "mark": {"type": "line", "strokeWidth": 1.4, "interpolate": "monotone"},
          "encoding": {
            "x": {"field": "x", "type": "quantitative", "scale": {"domain": [1.5, 7.5], "nice": false, "zero": false},
              "axis": {"orient": "bottom", "title": null, "values": [1.5,2,2.5,3,3.5,4,4.5,5,5.5,6,6.5,7,7.5], "labelExpr": "round(datum.value*2)%2 ? '' : format(datum.value,'d')", "tickSize": {"condition": {"test": "round(datum.value*2)%2", "value": 3}, "value": 5}, "labelPadding": 2}},
            "y": {"field": "y", "type": "quantitative", "scale": {"domain": [0, 1.1], "nice": false},
              "axis": {"orient": "left", "title": "FEL透過光強度", "values": [0,0.1,0.2,0.3,0.4,0.5,0.6,0.7,0.8,0.9,1.0], "labelExpr": "round(datum.value*10)%2 ? '' : format(datum.value,'.1f')", "tickSize": {"condition": {"test": "round(datum.value*10)%2", "value": 3}, "value": 5}, "labelPadding": 3, "titlePadding": 18}},
            "color": {"field": "s", "type": "nominal", "scale": {"domain": ["k", "kd", "r", "rd"], "range": ["#111111", "#222222", "#c0282d", "#b8303e"]}, "legend": null},
            "strokeDash": {"field": "s", "type": "nominal", "scale": {"domain": ["k", "kd", "r", "rd"], "range": [[1, 0], [4, 3], [1, 0], [4, 3]]}, "legend": null}
          }
        },
        {
          "data": {"name": "yag"},
          "mark": {"type": "line", "color": "#f0902a", "strokeWidth": 1.5},
          "encoding": {"x": {"field": "x", "type": "quantitative", "axis": null}, "y": {"field": "y", "type": "quantitative", "scale": {"domain": [0, 1.1], "nice": false}, "axis": null}}
        },
        {
          "data": {"name": "arrows"},
          "transform": [{"filter": "datum.p === 'b'"}],
          "mark": {"type": "rule", "color": "#000", "strokeWidth": 3},
          "encoding": {"x": {"field": "x1", "type": "quantitative", "axis": null}, "x2": {"field": "x2"}, "y": {"field": "y", "type": "quantitative", "scale": {"domain": [0, 1.1], "nice": false}, "axis": null}}
        },
        {
          "data": {"name": "arrows"},
          "transform": [{"filter": "datum.p === 'b'"}],
          "mark": {"type": "point", "filled": true, "opacity": 1, "color": "#000", "size": 676},
          "encoding": {"x": {"field": "x2", "type": "quantitative", "axis": null}, "y": {"field": "y", "type": "quantitative", "scale": {"domain": [0, 1.1], "nice": false}, "axis": null},
            "shape": {"field": "d", "type": "nominal", "scale": {"domain": ["L", "R"], "range": ["M0,0L1,-0.5L1,0.5Z", "M0,0L-1,-0.5L-1,0.5Z"]}, "legend": null}}
        },
        {
          "data": {"name": "notes"},
          "transform": [{"filter": "datum.p === 'b' && datum.k === 'lab'"}],
          "mark": {"type": "text", "font": "Open Sans", "fontSize": 27, "align": "center", "baseline": "middle", "color": "#111"},
          "encoding": {"x": {"field": "x", "type": "quantitative", "axis": null}, "y": {"field": "y", "type": "quantitative", "scale": {"domain": [0, 1.1], "nice": false}, "axis": null}, "text": {"field": "t"}}
        },
        {
          "data": {"name": "notes"},
          "transform": [{"filter": "datum.p === 'b' && (datum.k === 'fel' || datum.k === 'yag')"}],
          "mark": {"type": "text", "font": "Liberation Serif", "fontSize": 26, "align": "left", "baseline": "alphabetic"},
          "encoding": {"x": {"field": "x", "type": "quantitative", "axis": null}, "y": {"field": "y", "type": "quantitative", "scale": {"domain": [0, 1.1], "nice": false}, "axis": null}, "text": {"field": "t"},
            "color": {"field": "k", "type": "nominal", "scale": {"domain": ["fel", "yag"], "range": ["#111111", "#ff6a1a"]}, "legend": null}}
        },
        {
          "data": {"name": "notes"},
          "transform": [{"filter": "datum.p === 'b' && (datum.k === 'felj' || datum.k === 'yagj')"}],
          "mark": {"type": "text", "font": "Noto Sans CJK JP", "fontSize": 23, "fontWeight": 300, "align": "left", "baseline": "alphabetic"},
          "encoding": {"x": {"field": "x", "type": "quantitative", "axis": null}, "y": {"field": "y", "type": "quantitative", "scale": {"domain": [0, 1.1], "nice": false}, "axis": null}, "text": {"field": "t"},
            "color": {"field": "k", "type": "nominal", "scale": {"domain": ["felj", "yagj"], "range": ["#222222", "#ff7a2a"]}, "legend": null}}
        },
        {
          "data": {"name": "green"},
          "transform": [{"filter": "datum.p === 'b'"}],
          "mark": {"type": "circle", "size": 10, "opacity": 0.9, "color": "#3ddc3d"},
          "encoding": {
            "x": {"field": "x", "type": "quantitative", "scale": {"domain": [1.5, 7.5], "nice": false, "zero": false},
              "axis": {"orient": "top", "labels": false, "title": null, "values": [1.5,2,2.5,3,3.5,4,4.5,5,5.5,6,6.5,7,7.5], "tickSize": {"condition": {"test": "round(datum.value*2)%2", "value": 3}, "value": 5}}},
            "y": {"field": "g", "type": "quantitative", "scale": {"domain": [0, 5.02], "nice": false},
              "axis": {"orient": "right", "title": "FEL透過光強度の変化", "titleFontSize": 25, "titleAngle": 270, "titleBaseline": "top", "values": [0,0.5,1,1.5,2,2.5,3,3.5,4,4.5,5], "labelExpr": "round(datum.value*2)%2 ? '' : format(datum.value,'d')", "tickSize": {"condition": {"test": "round(datum.value*2)%2", "value": 3}, "value": 5}, "domainColor": "#55d455", "tickColor": "#55d455", "labelColor": "#3ccc3c", "titlePadding": 18}}
          }
        }
      ]
    },
    {
      "width": 384, "height": 292,
      "resolve": {"scale": {"y": "independent", "color": "independent", "strokeDash": "independent", "shape": "independent"}, "axis": {"x": "independent"}},
      "layer": [
        {
          "data": {"name": "curves"},
          "transform": [{"filter": "datum.p === 'c'"}, {"fold": ["k", "kd", "r", "rd"], "as": ["s", "y"]}],
          "mark": {"type": "line", "strokeWidth": 1.4, "interpolate": "monotone"},
          "encoding": {
            "x": {"field": "x", "type": "quantitative", "scale": {"domain": [1.5, 7.5], "nice": false, "zero": false},
              "axis": {"orient": "bottom", "title": "時間 (µs)", "titleFontSize": 24, "titlePadding": 10, "values": [1.5,2,2.5,3,3.5,4,4.5,5,5.5,6,6.5,7,7.5], "labelExpr": "round(datum.value*2)%2 ? '' : format(datum.value,'d')", "tickSize": {"condition": {"test": "round(datum.value*2)%2", "value": 3}, "value": 5}, "labelPadding": 2}},
            "y": {"field": "y", "type": "quantitative", "scale": {"domain": [0, 1.1], "nice": false},
              "axis": {"orient": "left", "title": "FEL透過光強度", "values": [0,0.1,0.2,0.3,0.4,0.5,0.6,0.7,0.8,0.9,1.0], "labelExpr": "round(datum.value*10)%2 ? '' : format(datum.value,'.1f')", "tickSize": {"condition": {"test": "round(datum.value*10)%2", "value": 3}, "value": 5}, "labelPadding": 3, "titlePadding": 18}},
            "color": {"field": "s", "type": "nominal", "scale": {"domain": ["k", "kd", "r", "rd"], "range": ["#111111", "#222222", "#d0303a", "#c04050"]}, "legend": null},
            "strokeDash": {"field": "s", "type": "nominal", "scale": {"domain": ["k", "kd", "r", "rd"], "range": [[1, 0], [4, 3], [1, 0], [4, 3]]}, "legend": null}
          }
        },
        {
          "data": {"name": "yag"},
          "mark": {"type": "line", "color": "#f0902a", "strokeWidth": 1.5},
          "encoding": {"x": {"field": "x", "type": "quantitative", "axis": null}, "y": {"field": "y", "type": "quantitative", "scale": {"domain": [0, 1.1], "nice": false}, "axis": null}}
        },
        {
          "data": {"name": "arrows"},
          "transform": [{"filter": "datum.p === 'c'"}],
          "mark": {"type": "rule", "color": "#000", "strokeWidth": 3},
          "encoding": {"x": {"field": "x1", "type": "quantitative", "axis": null}, "x2": {"field": "x2"}, "y": {"field": "y", "type": "quantitative", "scale": {"domain": [0, 1.1], "nice": false}, "axis": null}}
        },
        {
          "data": {"name": "arrows"},
          "transform": [{"filter": "datum.p === 'c'"}],
          "mark": {"type": "point", "filled": true, "opacity": 1, "color": "#000", "size": 676},
          "encoding": {"x": {"field": "x2", "type": "quantitative", "axis": null}, "y": {"field": "y", "type": "quantitative", "scale": {"domain": [0, 1.1], "nice": false}, "axis": null},
            "shape": {"field": "d", "type": "nominal", "scale": {"domain": ["L", "R"], "range": ["M0,0L1,-0.5L1,0.5Z", "M0,0L-1,-0.5L-1,0.5Z"]}, "legend": null}}
        },
        {
          "data": {"name": "notes"},
          "transform": [{"filter": "datum.p === 'c' && datum.k === 'lab'"}],
          "mark": {"type": "text", "font": "Open Sans", "fontSize": 27, "align": "center", "baseline": "middle", "color": "#111"},
          "encoding": {"x": {"field": "x", "type": "quantitative", "axis": null}, "y": {"field": "y", "type": "quantitative", "scale": {"domain": [0, 1.1], "nice": false}, "axis": null}, "text": {"field": "t"}}
        },
        {
          "data": {"name": "notes"},
          "transform": [{"filter": "datum.p === 'c' && (datum.k === 'fel' || datum.k === 'yag')"}],
          "mark": {"type": "text", "font": "Liberation Serif", "fontSize": 26, "align": "left", "baseline": "alphabetic"},
          "encoding": {"x": {"field": "x", "type": "quantitative", "axis": null}, "y": {"field": "y", "type": "quantitative", "scale": {"domain": [0, 1.1], "nice": false}, "axis": null}, "text": {"field": "t"},
            "color": {"field": "k", "type": "nominal", "scale": {"domain": ["fel", "yag"], "range": ["#111111", "#ff6a1a"]}, "legend": null}}
        },
        {
          "data": {"name": "notes"},
          "transform": [{"filter": "datum.p === 'c' && (datum.k === 'felj' || datum.k === 'yagj')"}],
          "mark": {"type": "text", "font": "Noto Sans CJK JP", "fontSize": 23, "fontWeight": 300, "align": "left", "baseline": "alphabetic"},
          "encoding": {"x": {"field": "x", "type": "quantitative", "axis": null}, "y": {"field": "y", "type": "quantitative", "scale": {"domain": [0, 1.1], "nice": false}, "axis": null}, "text": {"field": "t"},
            "color": {"field": "k", "type": "nominal", "scale": {"domain": ["felj", "yagj"], "range": ["#222222", "#ff7a2a"]}, "legend": null}}
        },
        {
          "data": {"name": "green"},
          "transform": [{"filter": "datum.p === 'c'"}],
          "mark": {"type": "circle", "size": 10, "opacity": 0.9, "color": "#3ddc3d"},
          "encoding": {
            "x": {"field": "x", "type": "quantitative", "scale": {"domain": [1.5, 7.5], "nice": false, "zero": false},
              "axis": {"orient": "top", "labels": false, "title": null, "values": [1.5,2,2.5,3,3.5,4,4.5,5,5.5,6,6.5,7,7.5], "tickSize": {"condition": {"test": "round(datum.value*2)%2", "value": 3}, "value": 5}}},
            "y": {"field": "g", "type": "quantitative", "scale": {"domain": [0, 5.02], "nice": false},
              "axis": {"orient": "right", "title": "FEL透過光強度の変化", "titleFontSize": 25, "titleAngle": 270, "titleBaseline": "top", "values": [0,0.5,1,1.5,2,2.5,3,3.5,4,4.5,5], "labelExpr": "round(datum.value*2)%2 ? '' : format(datum.value,'d')", "tickSize": {"condition": {"test": "round(datum.value*2)%2", "value": 3}, "value": 5}, "domainColor": "#55d455", "tickColor": "#55d455", "labelColor": "#3ccc3c", "titlePadding": 18}}
          }
        }
      ]
    }
  ]
}
